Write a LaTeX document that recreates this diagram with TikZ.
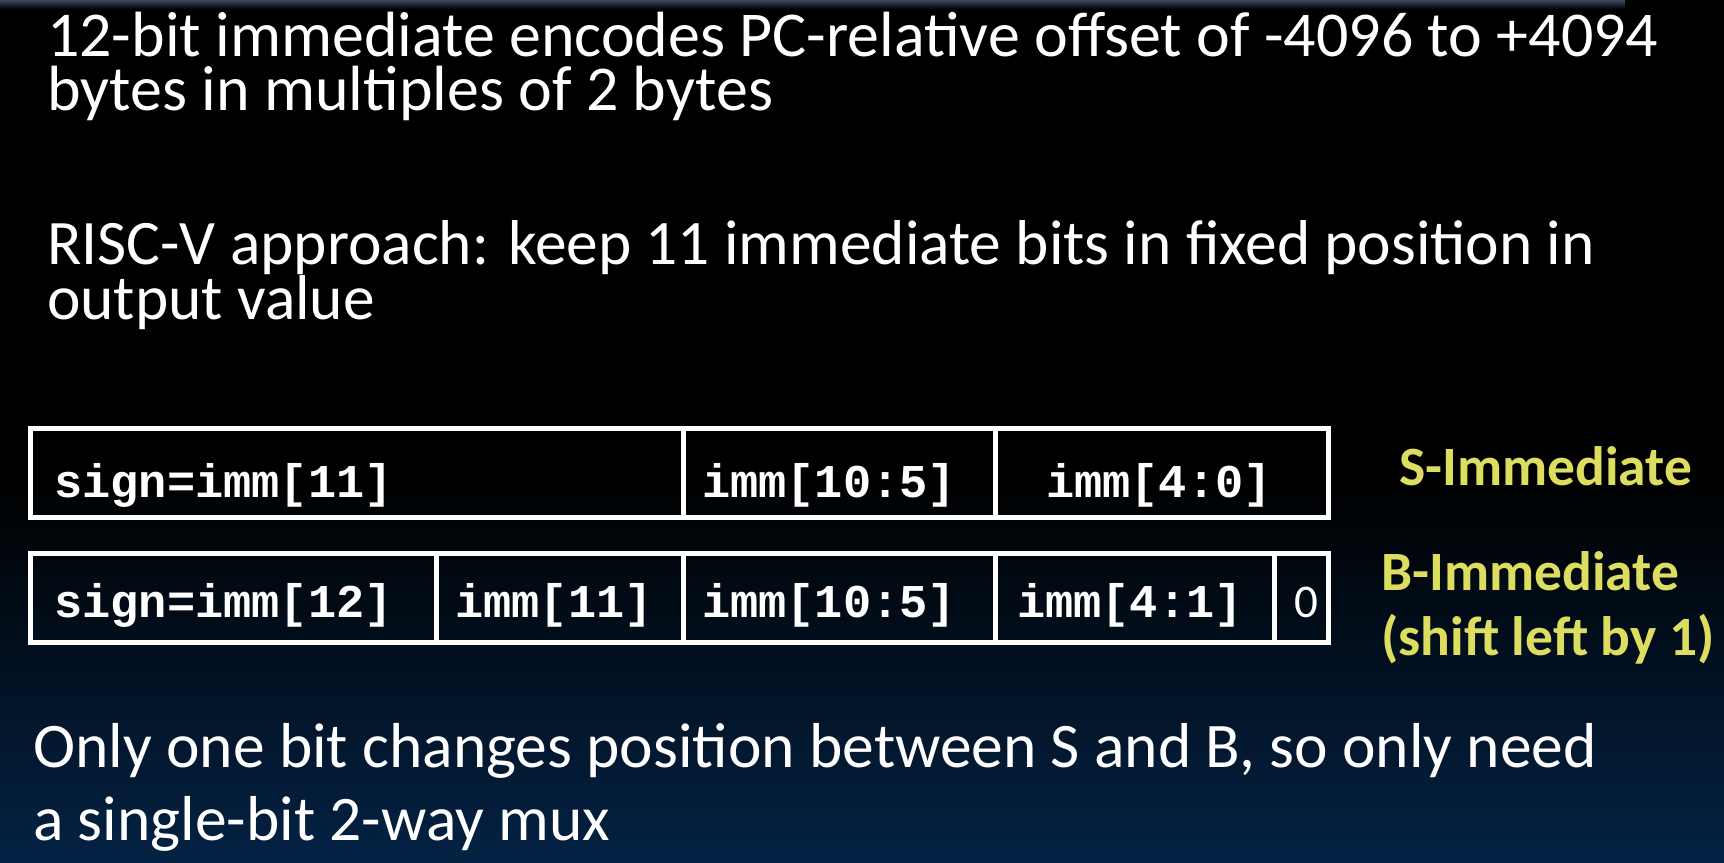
\documentclass[tikz,border=0pt]{standalone}
\usepackage{fontspec}
\setmainfont{Carlito}
\newfontfamily\codefont{Liberation Mono}[BoldFont={Liberation Mono Bold}]
\definecolor{slideyellow}{RGB}{221,221,96}
\definecolor{slideblue}{RGB}{4,34,68}
\begin{document}
\begin{tikzpicture}[x=1pt,y=-1pt,line join=miter]
  \tikzset{field/.style={draw=white,line width=5pt},
           bits/.style={font=\codefont\bfseries\fontsize{47}{47}\selectfont,text=white,inner sep=0pt,anchor=base},
           body/.style={font=\fontsize{63.9}{54}\selectfont,text=white,align=left,inner sep=0pt,anchor=base west},
           tag/.style={font=\bfseries\fontsize{55.5}{65}\selectfont,text=slideyellow,align=left,inner sep=0pt,anchor=base west}}
  \def\xl{30.5}
  \def\xr{1328.5}
  \useasboundingbox (0,0) rectangle (1724,862);
  % background
  \fill[black] (0,0) rectangle (1724,862);
  \shade[top color={rgb,255:red,60;green,70;blue,90},bottom color=black] (0,0) rectangle (1625,9);
  \shade[top color=black,bottom color=slideblue] (0,480) rectangle (1724,862);
  % text (base = last line)
  \node[body] (range) at (47,110) {12-bit immediate encodes PC-relative offset of -4096 to +4094\\bytes in multiples of 2 bytes};
  \node[body,font=\fontsize{63.4}{55}\selectfont] (idea) at (47,319) {RISC-V approach: keep 11 immediate bits in fixed position in\\output value};
  \node[body,font=\fontsize{63.5}{73}\selectfont] (mux) at (33,840) {Only one bit changes position between S and B, so only need\\a single-bit 2-way mux};
  % S row
  \draw[field] (\xl,428.5) rectangle (683,517.5) (683,428.5) rectangle (995,517.5) (995,428.5) rectangle (\xr,517.5);
  \node[bits,anchor=base west] (ssign) at (54,497) {sign=imm[11]};
  \node[bits] (shi) at (829,497) {imm[10:5]};
  \node[bits] (slo) at (1159,497) {imm[4:0]};
  % B row
  \draw[field] (\xl,553.5) rectangle (436,642.5) (436,553.5) rectangle (683,642.5) (683,553.5) rectangle (995,642.5)
    (995,553.5) rectangle (1274,642.5) (1274,553.5) rectangle (\xr,642.5);
  \node[bits,anchor=base west] (bsign) at (54,617) {sign=imm[12]};
  \node[bits] (btop) at (554,617) {imm[11]};
  \node[bits] (bhi) at (829,617) {imm[10:5]};
  \node[bits] (blo) at (1130,617) {imm[4:1]};
  \node[bits,font=\fontsize{47}{47}\selectfont] (bzero) at (1306,617) {0};
  % labels
  \node[tag] (stag) at (1399,485) {S-Immediate};
  \node[tag] (btag) at (1381,655) {B-Immediate\\(shift left by 1)};
\end{tikzpicture}
\end{document}
